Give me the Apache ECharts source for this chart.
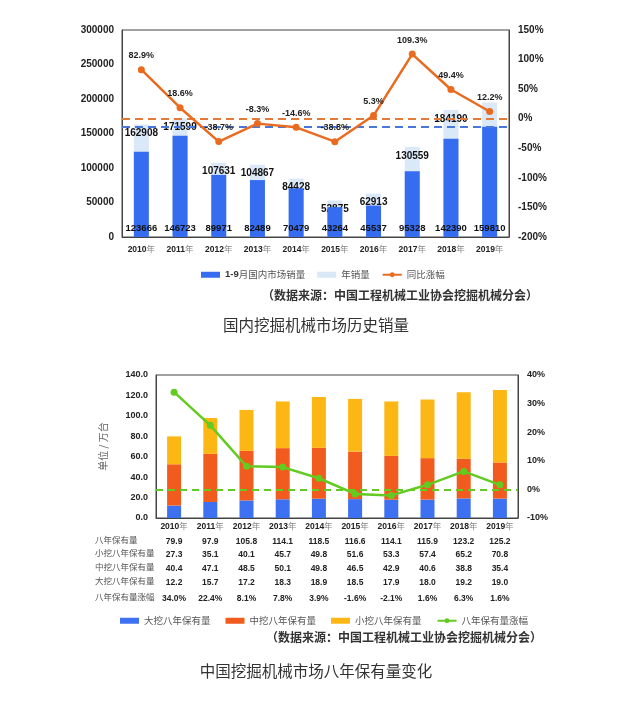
<!DOCTYPE html>
<html>
<head>
<meta charset="utf-8">
<script src="https://cdn.jsdelivr.net/npm/echarts@6/dist/echarts.min.js"></script>
<style>
html,body{margin:0;padding:0;background:#fff;}
#chart{width:641px;height:710px;}
</style>
</head>
<body>
<div id="chart"></div>
<script>
// ---- Chart 1 data: domestic excavator sales ----
const years = ['2010','2011','2012','2013','2014','2015','2016','2017','2018','2019'];
const janSepSales = [123666,146723,89971,82489,70479,43264,45537,95328,142390,159810];
const annualSales = [162908,171599,107631,104867,84428,52875,62913,130559,184190,195000];
const yoyGrowth = [82.9,18.6,-38.7,-8.3,-14.6,-38.8,5.3,109.3,49.4,12.2];
const salesRefLine = 159810;

// ---- Chart 2 data: eight-year fleet ----
const largeFleet = [12.2,15.7,17.2,18.3,18.9,18.5,17.9,18.0,19.2,19.0];
const midFleet = [40.4,47.1,48.5,50.1,49.8,46.5,42.9,40.6,38.8,35.4];
const smallFleet = [27.3,35.1,40.1,45.7,49.8,51.6,53.3,57.4,65.2,70.8];
const totalFleet = [79.9,97.9,105.8,114.1,118.5,116.6,114.1,115.9,123.2,125.2];
const fleetGrowth = [34.0,22.4,8.1,7.8,3.9,-1.6,-2.1,1.6,6.3,1.6];

const tableRows = [
  {label:'八年保有量', values: totalFleet, suffix:''},
  {label:'小挖八年保有量', values: smallFleet, suffix:''},
  {label:'中挖八年保有量', values: midFleet, suffix:''},
  {label:'大挖八年保有量', values: largeFleet, suffix:''},
  {label:'八年保有量涨幅', values: fleetGrowth, suffix:'%'}
];
const tableOffsets = [15, 28, 42, 56, 72];
const tableLabelY = [540, 553, 567, 581, 597];

const NUM = "'Liberation Sans', Arial, 'Noto Sans CJK SC', sans-serif";
const CJK = "'Noto Sans CJK SC', sans-serif";

const yearLabel = {
  margin: 8, interval: 0, hideOverlap: false,
  formatter: v => '{b|' + v + '}{n|年}',
  rich: {
    b: {fontFamily: NUM, fontWeight: 'bold', fontSize: 8.5, color: '#222'},
    n: {fontFamily: CJK, fontSize: 8.5, color: '#888'}
  }
};
const frameLine = {show: true, lineStyle: {color: '#444', width: 1}};
const numLabel = {fontFamily: NUM, fontWeight: 'bold', fontSize: 10, color: '#222'};

const xAxes = [
  {type:'category', gridIndex:0, data: years, axisLine: frameLine, axisTick:{show:false}, axisLabel: yearLabel},
  {type:'category', gridIndex:1, data: years, axisLine: frameLine, axisTick:{show:false}, axisLabel: Object.assign({}, yearLabel, {margin: 4})}
];
tableRows.forEach((row, k) => {
  xAxes.push({
    type:'category', gridIndex:1, position:'bottom', offset: tableOffsets[k], data: years,
    axisLine:{show:false}, axisTick:{show:false}, splitLine:{show:false},
    axisLabel:{margin: 4, interval: 0, hideOverlap: false, fontFamily: NUM, fontWeight:'bold', fontSize: 8.5, color:'#222',
      formatter: (v, i) => row.values[i].toFixed(1) + row.suffix}
  });
});

const graphics = [];
tableRows.forEach((row, k) => {
  graphics.push({type:'text', x: 95, y: tableLabelY[k],
    style:{text: row.label, fill:'#555', font: '8.5px ' + CJK, verticalAlign:'middle', align:'left'}});
});
graphics.push({type:'text', x: 262, y: 295,
  style:{text:'（数据来源：中国工程机械工业协会挖掘机械分会）', fill:'#333', font:'bold 12px ' + CJK, verticalAlign:'middle', align:'left'}});
graphics.push({type:'text', x: 266, y: 637,
  style:{text:'（数据来源：中国工程机械工业协会挖掘机械分会）', fill:'#333', font:'bold 12px ' + CJK, verticalAlign:'middle', align:'left'}});
graphics.push({type:'text', x: 316, y: 325,
  style:{text:'国内挖掘机械市场历史销量', fill:'#333', font:'15.5px ' + CJK, verticalAlign:'middle', align:'center'}});
graphics.push({type:'text', x: 316, y: 671,
  style:{text:'中国挖掘机械市场八年保有量变化', fill:'#333', font:'15.5px ' + CJK, verticalAlign:'middle', align:'center'}});

const option = {
  backgroundColor: '#fff',
  animation: false,
  textStyle: {fontFamily: NUM},
  grid: [
    {left: 122, top: 30, width: 387, height: 207, show: true, borderColor: '#444', borderWidth: 1, backgroundColor: 'transparent'},
    {left: 156, top: 375, width: 362, height: 143, show: true, borderColor: '#444', borderWidth: 1, backgroundColor: 'transparent'}
  ],
  legend: [
    {left: 196, top: 265, itemWidth: 19, itemHeight: 6, itemGap: 12,
      textStyle: {fontFamily: CJK, fontSize: 9.5, color: '#555',
        rich: {b: {fontFamily: NUM, fontWeight: 'bold', fontSize: 9.5, color: '#333'}}},
      formatter: n => n.indexOf('1-9') === 0 ? '{b|1-9}' + n.slice(3) : n,
      data: [{name:'1-9月国内市场销量', icon:'rect'}, {name:'年销量', icon:'rect'}, {name:'同比涨幅'}]},
    {left: 115, top: 611, itemWidth: 19, itemHeight: 6, itemGap: 15,
      textStyle: {fontFamily: CJK, fontSize: 9.5, color: '#555'},
      data: [{name:'大挖八年保有量', icon:'rect'}, {name:'中挖八年保有量', icon:'rect'}, {name:'小挖八年保有量', icon:'rect'}, {name:'八年保有量涨幅'}]}
  ],
  xAxis: xAxes,
  yAxis: [
    {type:'value', gridIndex:0, position:'left', min:0, max:300000, interval:50000,
      axisLine: frameLine, axisTick:{show:false}, splitLine:{show:false},
      axisLabel: Object.assign({margin: 8, formatter: v => String(v)}, numLabel)},
    {type:'value', gridIndex:0, position:'right', min:-200, max:150, interval:50,
      axisLine: frameLine, axisTick:{show:false}, splitLine:{show:false},
      axisLabel: Object.assign({margin: 9, formatter: '{value}%'}, numLabel)},
    {type:'value', gridIndex:1, position:'left', min:0, max:140, interval:20,
      name: '单位 / 万台', nameLocation:'middle', nameGap: 48, nameRotate: 90,
      nameTextStyle: {fontFamily: CJK, fontSize: 10, color: '#666'},
      axisLine: frameLine, axisTick:{show:false}, splitLine:{show:false},
      axisLabel: Object.assign({margin: 8, formatter: v => v.toFixed(1)}, numLabel, {fontSize: 9})},
    {type:'value', gridIndex:1, position:'right', min:-10, max:40, interval:10,
      axisLine: frameLine, axisTick:{show:false}, splitLine:{show:false},
      axisLabel: Object.assign({margin: 9, formatter: '{value}%'}, numLabel, {fontSize: 9})}
  ],
  series: [
    {name:'年销量', type:'bar', xAxisIndex:0, yAxisIndex:0, data: annualSales, barWidth: 15, barGap:'-100%',
      itemStyle:{color:'#dbe8f7'}, z: 1,
      label:{show:true, position:'insideTop', distance: 4, fontFamily: NUM, fontWeight:'bold', fontSize: 10, color:'#111',
        formatter: p => p.dataIndex === years.length - 1 ? '' : String(p.value)}},
    {name:'1-9月国内市场销量', type:'bar', xAxisIndex:0, yAxisIndex:0, data: janSepSales, barWidth: 15, barGap:'-100%',
      itemStyle:{color:'#356cf0'}, z: 2,
      label:{show:true, position:'insideBottom', distance: 4, fontFamily: NUM, fontWeight:'bold', fontSize: 9.5, color:'#111'},
      markLine:{silent:true, symbol:'none', label:{show:false}, z: 3,
        lineStyle:{color:'#4a78d8', type:[8,5], width: 1.8}, data:[{yAxis: salesRefLine}]}},
    {name:'同比涨幅', type:'line', xAxisIndex:0, yAxisIndex:1, data: yoyGrowth,
      itemStyle:{color:'#ea6b1f'}, lineStyle:{width: 2.5, color:'#ea6b1f'}, symbol:'circle', symbolSize: 7, z: 5,
      label:{show:true, position:'top', distance: 6, formatter: p => p.value + '%', fontFamily: NUM, fontWeight:'bold', fontSize: 9, color:'#222'},
      markLine:{silent:true, symbol:'none', label:{show:false},
        lineStyle:{color:'#e27a3a', type:[8,5], width: 1.8}, data:[{yAxis: 0}]}},
    {name:'大挖八年保有量', type:'bar', stack:'fleet', xAxisIndex:1, yAxisIndex:2, data: largeFleet, barWidth: 14,
      itemStyle:{color:'#3e70f2'}},
    {name:'中挖八年保有量', type:'bar', stack:'fleet', xAxisIndex:1, yAxisIndex:2, data: midFleet, barWidth: 14,
      itemStyle:{color:'#f15b1d'}},
    {name:'小挖八年保有量', type:'bar', stack:'fleet', xAxisIndex:1, yAxisIndex:2, data: smallFleet, barWidth: 14,
      itemStyle:{color:'#fdb714'}},
    {name:'八年保有量涨幅', type:'line', xAxisIndex:1, yAxisIndex:3, data: fleetGrowth,
      itemStyle:{color:'#62cb1f'}, lineStyle:{width: 2.5, color:'#62cb1f'}, symbol:'circle', symbolSize: 7, z: 5,
      markLine:{silent:true, symbol:'none', label:{show:false},
        lineStyle:{color:'#62cb1f', type:[7,5], width: 1.8}, data:[{yAxis: 0}]}}
  ],
  graphic: graphics
};

const chart = echarts.init(document.getElementById('chart'), null, {renderer:'canvas'});
chart.setOption(option);
</script>
</body>
</html>
